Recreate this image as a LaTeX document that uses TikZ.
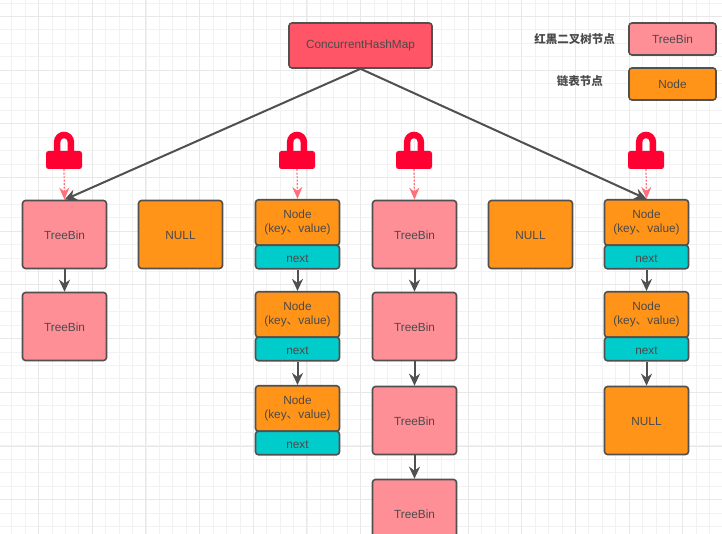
\documentclass[tikz,border=0pt]{standalone}
\usepackage{fontspec}
\setmainfont{Liberation Sans}
\newfontfamily\cjk{Noto Sans CJK SC}
\usetikzlibrary{arrows.meta,positioning,calc}
\definecolor{pinkfill}{HTML}{FF8F97}
\definecolor{orangefill}{HTML}{FF9419}
\definecolor{tealfill}{HTML}{00CCCC}
\definecolor{redfill}{HTML}{FF5566}
\definecolor{lockred}{HTML}{FF0033}
\definecolor{dashpink}{HTML}{FF6F7C}
\definecolor{edgegrey}{HTML}{505050}
\definecolor{textgrey}{HTML}{4A4A4A}
\tikzset{
  >={Stealth[length=12pt,width=11pt]},
  base/.style = {draw=edgegrey, line width=1.6pt, rounded corners=3pt, text=textgrey, font=\fontsize{11.8}{14}\selectfont, align=center, inner sep=0pt},
  treebin/.style = {base, fill=pinkfill, minimum width=84pt, minimum height=68pt, text height=10.5pt},
  nullbox/.style = {base, fill=orangefill, minimum width=84pt, minimum height=68pt, text height=10.5pt},
  nodebox/.style = {base, fill=orangefill, minimum width=84pt, minimum height=45.5pt},
  nextbox/.style = {base, fill=tealfill, minimum width=84pt, minimum height=23.5pt, text height=10.5pt},
  lockbody/.style = {fill=lockred, rounded corners=2.5pt, minimum width=36pt, minimum height=18pt, inner sep=0pt},
  legendtext/.style = {text=textgrey, font=\cjk\bfseries\fontsize{11.5}{13}\selectfont, inner sep=0pt},
  link/.style = {->, draw=edgegrey, line width=2pt},
  lockarrow/.style = {-{Stealth[length=12pt,width=10pt]}, draw=dashpink, line width=1.2pt, dash pattern=on 2pt off 1.5pt},
}
% padlock: body node plus shackle
\newcommand{\padlock}[2]{
  \node[lockbody] (#1) at (#2, 160) {};
  \draw[lockred, line width=6.5pt] ($(#1.north)+(-6.8,1)$) -- ++(0,-10)
    arc[start angle=180, end angle=0, radius=6.8pt] -- ++(0,10);
}
\begin{document}
\begin{tikzpicture}[x = 1pt, y = -1pt]
\path[use as bounding box, clip] (0,0) rectangle (722,534);
\fill[white] (0,0) rectangle (722,534);

% background grid
\foreach \i in {0,...,54} \draw[black!5, line width=1pt] ({round(11.4+13.42*\i)+.5}, 0) -- ({round(11.4+13.42*\i)+.5}, 534);
\foreach \i in {0,...,40} \draw[black!5, line width=1pt] (0, {round(2.6+13.42*\i)+.5}) -- (722, {round(2.6+13.42*\i)+.5});
\foreach \i in {0,...,13} \draw[black!9, line width=1pt] ({round(38+53.7*\i)+.5}, 0) -- ({round(38+53.7*\i)+.5}, 534);
\foreach \i in {0,...,9} \draw[black!9, line width=1pt] (0, {round(16+53.7*\i)+.5}) -- (722, {round(16+53.7*\i)+.5});

\node[base, fill=redfill, minimum width=143pt, minimum height=45pt] (map) at (360.5, 45.5) {ConcurrentHashMap};

% legend
\node[treebin, minimum width=87pt, minimum height=32pt, text height=9pt] (legendtree) at (672.5, 39) {TreeBin};
\node[nullbox, minimum width=87pt, minimum height=32pt, text height=9pt] (legendnode) at (672.5, 84) {Node};
\node[legendtext, anchor=east] (legendred) at (615, 39.5) {红黑二叉树节点};
\node[legendtext, anchor=east] (legendlist) at (603, 81.5) {链表节点};

% first column
\node[treebin] (a1) at (64.5, 234.5) {TreeBin};
\node[treebin] (a2) at (64.5, 326.5) {TreeBin};
\draw[link] (a1) -- (a2);

\node[nullbox] (b1) at (180.5, 234.5) {NULL};

% third column
\node[nodebox] (c1) at (297.5, 222.5) {Node\\(key{\cjk 、}value)};
\node[nextbox] (cn1) at (297.5, 257) {next};
\node[nodebox] (c2) at (297.5, 314.5) {Node\\(key{\cjk 、}value)};
\node[nextbox] (cn2) at (297.5, 349) {next};
\node[nodebox] (c3) at (297.5, 408.5) {Node\\(key{\cjk 、}value)};
\node[nextbox] (cn3) at (297.5, 443) {next};
\draw[link] (cn1) -- (c2);
\draw[link] (cn2) -- (c3);

% fourth column
\node[treebin] (d1) at (414.5, 234.5) {TreeBin};
\node[treebin] (d2) at (414.5, 326.5) {TreeBin};
\node[treebin] (d3) at (414.5, 420.5) {TreeBin};
\node[treebin] (d4) at (414.5, 513.5) {TreeBin};
\draw[link] (d1) -- (d2);
\draw[link] (d2) -- (d3);
\draw[link] (d3) -- (d4);

\node[nullbox] (e1) at (530.5, 234.5) {NULL};

% last column
\node[nodebox] (f1) at (646.5, 222.5) {Node\\(key{\cjk 、}value)};
\node[nextbox] (fn1) at (646.5, 257) {next};
\node[nodebox] (f2) at (646.5, 314.5) {Node\\(key{\cjk 、}value)};
\node[nextbox] (fn2) at (646.5, 349) {next};
\node[nullbox] (f3) at (646.5, 420.5) {NULL};
\draw[link] (fn1) -- (f2);
\draw[link] (fn2) -- (f3);

% locks
\padlock{l1}{64}
\padlock{l2}{297}
\padlock{l3}{414}
\padlock{l4}{646}
\draw[lockarrow] (l1.south) -- (a1.north);
\draw[lockarrow] (l2.south) -- (c1.north);
\draw[lockarrow] (l3.south) -- (d1.north);
\draw[lockarrow] (l4.south) -- (f1.north);

\draw[link] (map.south) -- (a1.north);
\draw[link] (map.south) -- (f1.north);

\end{tikzpicture}
\end{document}
